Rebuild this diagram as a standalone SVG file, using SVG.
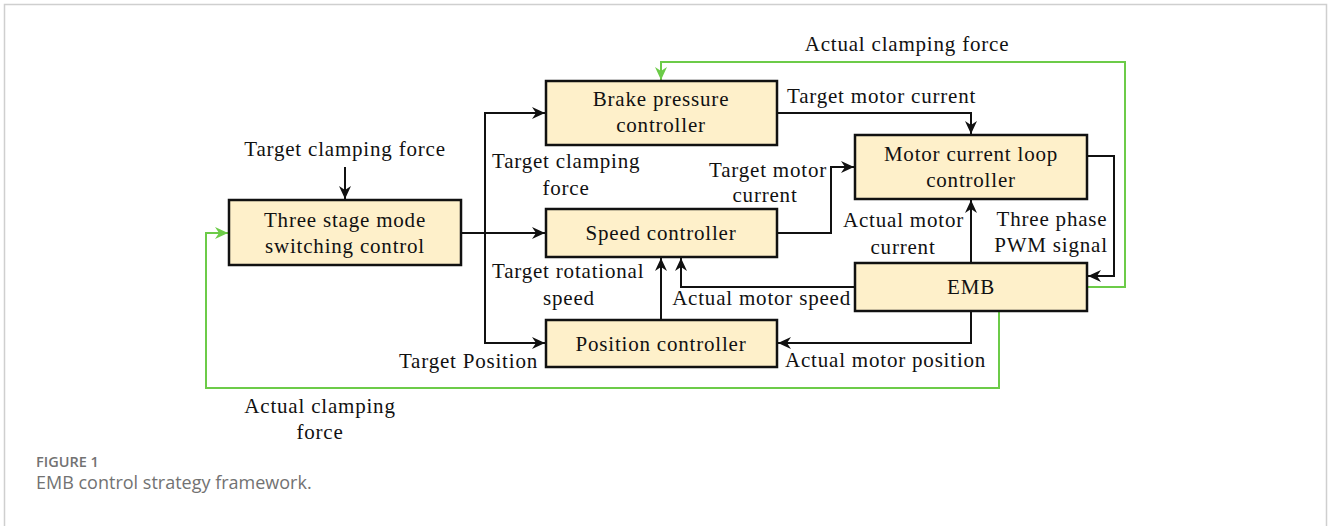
<svg xmlns="http://www.w3.org/2000/svg" width="1328" height="526" viewBox="0 0 1328 526">
<style>
.box{fill:#FEF0CA;stroke:#111;stroke-width:2.5}
.t{font-family:"Liberation Serif","Times New Roman",serif;font-size:21px;letter-spacing:0.8px;fill:#111}
.m{text-anchor:middle}
.e{text-anchor:end}
.k{fill:none;stroke:#111;stroke-width:2}
.g{fill:none;stroke:#6CCB48;stroke-width:2}
.cap{font-family:"Open Sans","Noto Sans",sans-serif;fill:#727272}
</style>
<defs>
<marker id="ak" markerUnits="userSpaceOnUse" markerWidth="14" markerHeight="12" refX="13" refY="6" orient="auto">
<path d="M0,0 L13,6 L0,12 L4,6 z" fill="#111"/>
</marker>
<marker id="ag" markerUnits="userSpaceOnUse" markerWidth="14" markerHeight="12" refX="13" refY="6" orient="auto">
<path d="M0,0 L13,6 L0,12 L4,6 z" fill="#6CCB48"/>
</marker>
</defs>
<rect x="4.5" y="4.5" width="1322" height="540" fill="#fff" stroke="#cfcfcf" stroke-width="1.5"/>

<g id="connectors">
<path class="k" d="M345,167 L345,199" marker-end="url(#ak)"/>
<path class="k" d="M461,233 L545,233" marker-end="url(#ak)"/>
<path class="k" d="M545,113 L485,113 L485,343 L545,343" marker-end="url(#ak)"/>
<path class="k" d="M485,113 L545,113" marker-end="url(#ak)"/>
<path class="k" d="M777,113 L971,113 L971,134" marker-end="url(#ak)"/>
<path class="k" d="M777,233 L831,233 L831,167 L854,167" marker-end="url(#ak)"/>
<path class="k" d="M1087,156 L1114,156 L1114,276 L1088,276" marker-end="url(#ak)"/>
<path class="k" d="M971,263 L971,200" marker-end="url(#ak)"/>
<path class="k" d="M855,287 L681,287 L681,258" marker-end="url(#ak)"/>
<path class="k" d="M661,320 L661,258" marker-end="url(#ak)"/>
<path class="k" d="M971,311 L971,343 L778,343" marker-end="url(#ak)"/>
<path class="g" d="M1087,287 L1125,287 L1125,62 L661,62 L661,80" marker-end="url(#ag)"/>
<path class="g" d="M999,311 L999,388 L206,388 L206,233 L228,233" marker-end="url(#ag)"/>
</g>

<g id="three-stage">
<rect class="box" x="229" y="200" width="232" height="65"/>
<text class="t m" x="345" y="227">Three stage mode</text>
<text class="t m" x="345" y="253">switching control</text>
</g>
<g id="brake-pressure">
<rect class="box" x="546" y="81" width="231" height="64"/>
<text class="t m" x="661" y="106">Brake pressure</text>
<text class="t m" x="661" y="132">controller</text>
</g>
<g id="speed">
<rect class="box" x="546" y="209" width="231" height="48"/>
<text class="t m" x="661" y="240">Speed controller</text>
</g>
<g id="position">
<rect class="box" x="546" y="320" width="231" height="47"/>
<text class="t m" x="661" y="351">Position controller</text>
</g>
<g id="motor-current">
<rect class="box" x="855" y="135" width="232" height="64"/>
<text class="t m" x="971" y="161">Motor current loop</text>
<text class="t m" x="971" y="187">controller</text>
</g>
<g id="emb">
<rect class="box" x="855" y="263" width="232" height="48"/>
<text class="t m" x="971" y="294">EMB</text>
</g>

<g id="labels">
<text class="t m" x="345" y="156">Target clamping force</text>
<text class="t m" x="907" y="51">Actual clamping force</text>
<text class="t" x="787" y="103">Target motor current</text>
<text class="t" x="492" y="168">Target clamping</text>
<text class="t m" x="566" y="195">force</text>
<text class="t e" x="827" y="177">Target motor</text>
<text class="t m" x="765" y="202">current</text>
<text class="t e" x="964" y="227">Actual motor</text>
<text class="t m" x="903" y="254">current</text>
<text class="t m" x="1052" y="226">Three phase</text>
<text class="t m" x="1051" y="252">PWM signal</text>
<text class="t" x="492" y="278">Target rotational</text>
<text class="t m" x="569" y="305">speed</text>
<text class="t e" x="851" y="305">Actual motor speed</text>
<text class="t e" x="538" y="368">Target Position</text>
<text class="t" x="785" y="367">Actual motor position</text>
<text class="t m" x="320" y="413">Actual clamping</text>
<text class="t m" x="320" y="439">force</text>
</g>
<text class="cap" x="36" y="467" font-size="14.5" font-weight="600">FIGURE 1</text>
<text class="cap" x="36" y="489" font-size="18" font-weight="400">EMB control strategy framework.</text>
</svg>
